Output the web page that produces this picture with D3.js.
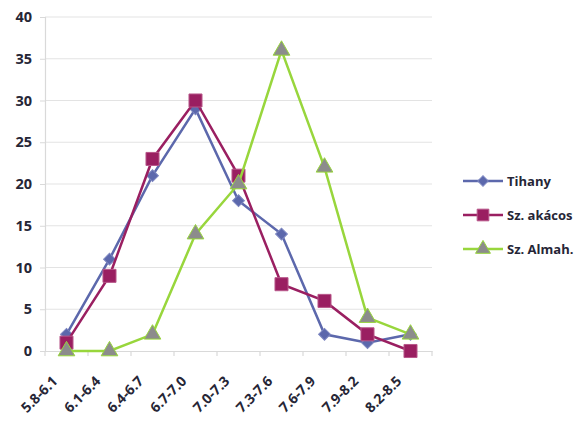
<!DOCTYPE html>
<html><head><meta charset="utf-8">
<script src="https://cdn.jsdelivr.net/npm/d3@7"></script>
<style>body{margin:0;background:#fff;}svg{display:block;}</style>
</head><body>
<script>
const categories = ["5.8-6.1","6.1-6.4","6.4-6.7","6.7-7.0","7.0-7.3","7.3-7.6","7.6-7.9","7.9-8.2","8.2-8.5"];
const tihany = [2, 11, 21, 29, 18, 14, 2, 1, 2];
const akacos = [1, 9, 23, 30, 21, 8, 6, 2, 0];
const almah = [0, 0, 2, 14, 20, 36, 22, 4, 2];
const seriesNames = ["Tihany", "Sz. akácos", "Sz. Almah."];
const yTicks = [0, 5, 10, 15, 20, 25, 30, 35, 40];

(function () {
const W = 587, H = 421;
const svg = d3.select("body").append("svg").attr("width", W).attr("height", H);
const mLeft = 45, mRight = 432, mTop = 17, mBottom = 351;
const x = d3.scaleBand().domain(categories).range([mLeft, mRight]);
const y = d3.scaleLinear().domain([0, 40]).range([mBottom, mTop]);
const font = "'Open Sans', sans-serif";
const textColor = "#262636";

// grid
svg.append("g").selectAll("line").data(yTicks.filter(d => d > 0)).join("line")
  .attr("x1", mLeft).attr("x2", mRight).attr("y1", d => y(d)).attr("y2", d => y(d))
  .attr("stroke", "#e3e3e3").attr("stroke-width", 1.2);

// y axis
const ya = svg.append("g").attr("transform", `translate(${mLeft},0)`)
  .call(d3.axisLeft(y).tickValues(yTicks).tickSize(5).tickPadding(8));
ya.select(".domain").attr("stroke", "#d9d9d9").attr("stroke-width", 1.2);
ya.selectAll(".tick line").attr("stroke", "#d9d9d9");
ya.selectAll("text").attr("font-family", font).attr("font-size", 14.5).attr("font-weight", 700).attr("fill", textColor);

// x axis
const xa = svg.append("g").attr("transform", `translate(0,${mBottom})`)
  .call(d3.axisBottom(x).tickSize(0));
xa.select(".domain").attr("stroke", "#d9d9d9").attr("stroke-width", 1.2);
xa.selectAll(".tick line").remove();
xa.selectAll(".tick text")
  .attr("font-family", font).attr("font-size", 14).attr("font-weight", 700).attr("fill", textColor)
  .attr("text-anchor", "end").attr("y", 0).attr("dy", 0)
  .attr("transform", "translate(-8,31) rotate(-45)");
svg.append("g").selectAll("line").data(d3.range(categories.length + 1)).join("line")
  .attr("x1", i => mLeft + i * x.step()).attr("x2", i => mLeft + i * x.step())
  .attr("y1", mBottom).attr("y2", mBottom + 5).attr("stroke", "#d9d9d9").attr("stroke-width", 1.2);

const cx = d => x(d) + x.bandwidth() / 2;
const defs = [
  {name: seriesNames[0], data: tihany, line: "#5c68ac", fill: "#5c68ac", stroke: "#7c86c0", sym: d3.symbolSquare, size: 70, rot: 45},
  {name: seriesNames[1], data: akacos, line: "#9a1f61", fill: "#9a1f61", stroke: "#b8578a", sym: d3.symbolSquare, size: 170, rot: 0},
  {name: seriesNames[2], data: almah, line: "#98d63c", fill: "#8c8c8c", stroke: "#98d63c", sym: d3.symbolTriangle, size: 120, rot: 0}
];
const lineGen = d3.line().x((d, i) => cx(categories[i])).y(d => y(d));
defs.forEach(s => {
  const g = svg.append("g");
  g.append("path").attr("d", lineGen(s.data)).attr("fill", "none").attr("stroke", s.line).attr("stroke-width", 2.5);
  g.selectAll("path.m").data(s.data).join("path").attr("class", "m")
    .attr("d", d3.symbol().type(s.sym).size(s.size))
    .attr("transform", (d, i) => `translate(${cx(categories[i])},${y(d)}) rotate(${s.rot})`)
    .attr("fill", s.fill).attr("stroke", s.stroke).attr("stroke-width", 1);
});

// legend
const lg = svg.append("g");
defs.forEach((s, i) => {
  const yy = 181 + i * 34;
  lg.append("line").attr("x1", 463).attr("x2", 503).attr("y1", yy).attr("y2", yy).attr("stroke", s.line).attr("stroke-width", 2.5);
  lg.append("path").attr("d", d3.symbol().type(s.sym).size(s.size * 0.8)).attr("transform", `translate(483,${yy}) rotate(${s.rot})`)
    .attr("fill", s.fill).attr("stroke", s.stroke).attr("stroke-width", 1);
  lg.append("text").attr("x", 507).attr("y", yy).attr("dy", "0.35em").text(s.name)
    .attr("font-family", font).attr("font-size", 13).attr("font-weight", 700).attr("fill", textColor);
});
})();
</script>
</body></html>
